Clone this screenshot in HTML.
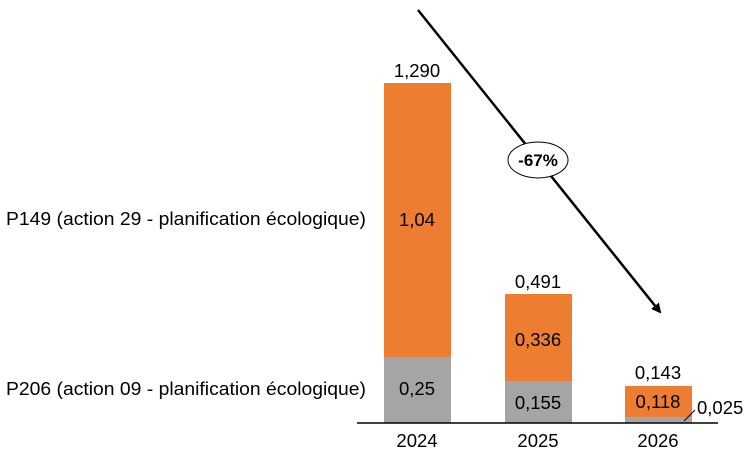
<!DOCTYPE html>
<html><head><meta charset="utf-8"><style>
body{margin:0;background:#fff}
svg text{font-family:"Liberation Sans",sans-serif;fill:#000}
</style></head><body>
<svg width="745" height="456" viewBox="0 0 745 456" xmlns="http://www.w3.org/2000/svg">
<defs><marker id="ah" markerWidth="10" markerHeight="10" refX="8" refY="5" orient="auto" markerUnits="userSpaceOnUse"><path d="M0,0 L10,5 L0,10 z" fill="#000"/></marker></defs>
<rect x="384" y="83" width="67" height="274" fill="#ED7D31"/>
<rect x="384" y="357" width="67" height="66" fill="#A5A5A5"/>
<rect x="505" y="294" width="67" height="87" fill="#ED7D31"/>
<rect x="505" y="381" width="67" height="42" fill="#A5A5A5"/>
<rect x="625" y="386" width="67" height="31" fill="#ED7D31"/>
<rect x="625" y="417" width="67" height="6" fill="#A5A5A5"/>
<line x1="357" y1="423" x2="718" y2="423" stroke="#000" stroke-width="1.5"/>
<g font-size="18.5" text-anchor="middle">
<text x="417" y="77">1,290</text>
<text x="417" y="226">1,04</text>
<text x="417" y="395">0,25</text>
<text x="538" y="288">0,491</text>
<text x="538" y="346">0,336</text>
<text x="538" y="409">0,155</text>
<text x="658" y="379">0,143</text>
<text x="658" y="408">0,118</text>
<text x="417" y="447">2024</text>
<text x="538" y="447">2025</text>
<text x="658" y="447">2026</text>
</g>
<text x="697" y="414" font-size="18.5">0,025</text>
<line x1="684" y1="421" x2="695" y2="410" stroke="#000" stroke-width="1"/>
<text x="6" y="225" font-size="18" textLength="360" lengthAdjust="spacingAndGlyphs">P149 (action 29 - planification écologique)</text>
<text x="6" y="395" font-size="18" textLength="360" lengthAdjust="spacingAndGlyphs">P206 (action 09 - planification écologique)</text>
<line x1="418" y1="10" x2="660" y2="312" stroke="#000" stroke-width="2.5" marker-end="url(#ah)"/>
<ellipse cx="538" cy="160" rx="30" ry="18" fill="#fff" stroke="#000" stroke-width="1"/>
<text x="538" y="166" font-size="17" font-weight="bold" text-anchor="middle">-67%</text>
</svg>
</body></html>
